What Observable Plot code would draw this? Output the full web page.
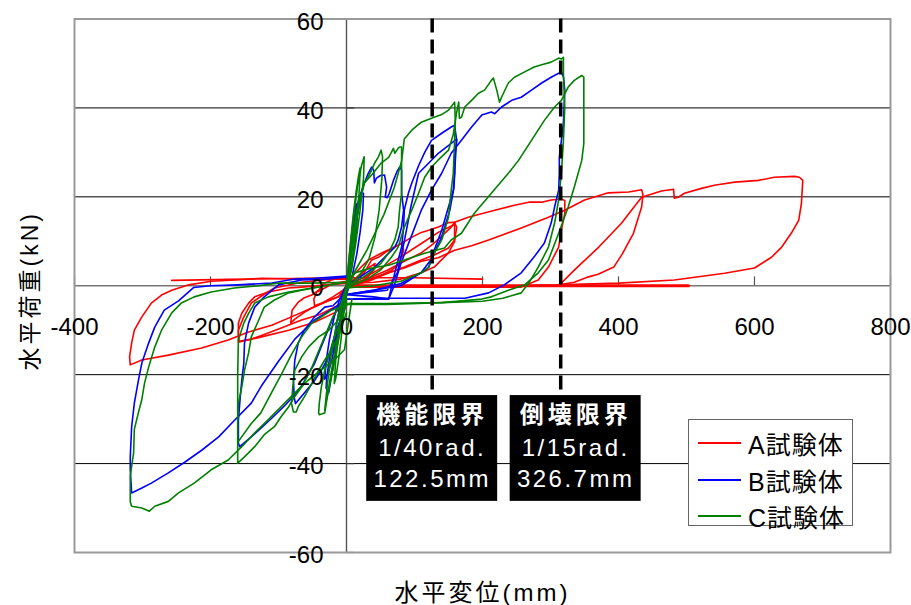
<!DOCTYPE html>
<html><head><meta charset="utf-8">
<script src="https://cdn.jsdelivr.net/npm/d3@7"></script>
<script src="https://cdn.jsdelivr.net/npm/@observablehq/plot@0.6"></script>
<style>
html,body{margin:0;padding:0;background:#fff;}
#wrap{position:relative;width:911px;height:605px;overflow:hidden;}
#legend{position:absolute;left:688px;top:419px;width:165px;height:107px;background:#fff;border:1.5px solid #666;box-sizing:border-box;}
.item{position:absolute;left:9px;height:30px;display:flex;align-items:center;font-family:"Liberation Sans","Noto Sans CJK JP",sans-serif;font-size:25px;color:#000;letter-spacing:1px;}
.sw{width:43px;height:2px;margin-right:7px;}
</style></head>
<body><div id="wrap"></div>
<script>
// ---------- axes / annotations ----------
const xTicks = [-400, -200, 0, 200, 400, 600, 800];
const yTicks = [-60, -40, -20, 0, 20, 40, 60];
const gridY = [-40, -20, 20, 40];
const xTitle = "水平変位(mm)";
const yTitle = "水平荷重(kN)";
const limitLines = [126, 315];             // dashed lines (mm)
const limitNames = ["機能限界", "倒壊限界"];
const limitRad = ["1/40rad.", "1/15rad."];
const limitMm = ["122.5mm", "326.7mm"];
const limitBoxX = [126, 337];               // box centres (mm)
const limitBoxY = -36.6;                    // box centre (kN)
const seriesNames = ["A試験体", "B試験体", "C試験体"];
const seriesColors = ["#ff0000", "#0000ff", "#008000"];

// ---------- A specimen (red) ----------
const A_p1 = [[0,0],[10,1.2],[20,2.6],[30,3.8],[42,5],[40,3.5],[30,1.8],[15,0.5],[0,-0.3]];
const A_p2 = [[0,0.5],[12,1.5],[26,2.9],[37,5.8],[47,6.4],[62,8],[76,9.1],[81,9.6],[84,8],[81,6.4],[76,4.6],[66,3.5],[50,2.3],[30,1],[10,0.3],[0,0]];
const A_p3 = [[0,0],[7,2],[32,5.8],[51,7.3],[76,9.1],[97,11],[110,12],[121,12.5],[135,13.2],[150,14.2],[159,14.3],[162,13.1],[159,10.3],[150,8.5],[129,6.9],[110,5.8],[85,4.2],[60,2.8],[30,1.3],[0,0.3]];
const A_p3b = [[0,0],[40,3],[80,6.5],[110,9.5],[135,12],[155,13.5],[159,13.8],[159,10],[150,7.4],[129,4.2],[110,2.9],[80,1.5],[40,0.8],[0,0.5]];
const A_p4 = [[0,-0.3],[30,1.5],[60,3.5],[85,5.5],[109,7.3],[128,9.5],[138,10.9],[154,13.2],[159,14.3],[179,15.4],[218,17],[247,18.1],[268,18.8],[287,18.8],[301,19.3],[316,19.5],[321,19.2],[321,16.3],[316,12.5],[312,8.7],[297,4.2],[282,1.3],[257,-0.3],[200,-0.3],[100,-0.3],[0,-0.3]];
const A_p5 = [[0,-0.5],[37,1.3],[62,2.9],[85,4],[110,5.5],[135,6.3],[159,8],[184,9],[209,10.3],[257,13],[297,15.4],[321,17],[350,19.3],[385,20.9],[415,21.1],[434,21.6],[436,20.5],[434,17.7],[422,11.8],[405,7],[393,4.2],[370,2.6],[356,2],[335,0.8],[312,0.2],[250,0],[150,0],[0,0]];
const A_p6 = [[0,-0.3],[100,-0.3],[200,-0.2],[312,0],[335,3.5],[371,8.7],[404,14],[434,19.9],[463,21.3],[481,21.7],[482,19.7],[488,19.9],[497,20.8],[522,21.9],[541,22.6],[571,23.3],[606,23.7],[629,24.4],[659,24.6],[666,24.4],[671,23.7],[669,18.5],[665,14.7],[654,11.8],[640,8.7],[625,6.4],[600,4],[556,2.8],[482,1.3],[400,0.6],[312,0.2]];
const A_flat = [[-257,1.2],[-150,1.5],[0,1.8],[100,1.8],[200,1.5]];
const A_end = [[0,0],[200,0],[350,0],[503,0]];
const A_n1 = [[0,0],[-12,-2.5],[-32,-3.7],[-51,-5],[-62,-6],[-76,-7.5],[-82,-8.4],[-80,-5.5],[-71,-3.7],[-62,-2.7],[-51,-2.1],[-41,-1],[-32,0.6],[-22,1.3],[-12,1.7],[0,1.7]];
const A_n2 = [[0,-0.5],[-20,-2.5],[-35,-3.8],[-47,-4.5],[-48,-3],[-44,-1.5],[-32,-0.5],[-20,0.5],[0,1]];
const A_n3 = [[0,1.5],[-22,1.5],[-66,0.8],[-106,-0.5],[-125,-2.3],[-140,-3.9],[-151,-7],[-159,-10],[-159,-12.7],[-125,-11.5],[-85,-10],[-47,-8.2],[-18,-6.1],[0,-4.3]];
const A_n3b = [[0,0.5],[-30,0.2],[-66,-0.3],[-85,-0.5],[-115,-1.4],[-135,-2.5],[-144,-3.9],[-154,-6.2],[-159,-8.4],[-159,-10.7],[-158,-12.5],[-140,-12],[-125,-11.2],[-96,-9.5],[-66,-7.7],[-40,-6.5],[-20,-5],[0,-3.5]];
const A_n4 = [[0,1.7],[-22,1.7],[-66,1.5],[-125,1.7],[-150,1.4],[-199,1],[-232,0.2],[-257,-1],[-272,-2.1],[-287,-3.9],[-301,-7],[-312,-10],[-316,-12.9],[-319,-16],[-318,-17.8],[-301,-16.7],[-262,-15.6],[-213,-14],[-174,-12.2],[-144,-10.4],[-110,-8.9],[-81,-7],[-51,-5],[-32,-3.7],[-12,-2.5],[0,-1]];

// ---------- B specimen (blue) ----------
const B_c1 = [[0,0],[3,4],[6,8],[9,12],[12,15.5],[14,18.5],[16,17],[15,13],[12,9],[8,5],[3,1],[-3,-3],[-8,-7],[-13,-11],[-17,-14],[-20,-15],[-18,-12],[-14,-8],[-9,-4],[-4,-1],[0,0]];
const B_c2 = [[0,-1],[5,5],[10,10],[15,15],[20,19],[22,20.8],[25,20.8],[24,17],[20,12],[15,7],[8,2],[0,-2],[-8,-7],[-15,-12],[-22,-17],[-28,-20],[-32,-21],[-30,-17],[-25,-12],[-18,-7],[-10,-3],[0,0]];
const B_n1 = [[0,0],[-7,-7],[-15,-10],[-22,-13.8],[-26,-17.4],[-29,-20.6],[-30,-23],[-26,-24],[-22,-20],[-15,-14],[-8,-8],[0,-2]];
const B_p1 = [[0,0],[3,3],[7,8],[12,15],[18,19.5],[26,23],[32,25.3],[37,26.7],[40,26],[41,23.1],[44,24.2],[50,24.8],[56,24.9],[59,22.2],[57,19.9],[60,19.8],[63,20.8],[69,23.7],[74,25.6],[78,26.7],[81,26],[81,20.8],[84,17],[81,13.2],[76,10.3],[71,8.7],[56,6.4],[40,4],[20,2],[0,0]];
const B_n2 = [[0,-1],[-10,-3],[-20,-4.5],[-32,-4.8],[-47,-7],[-62,-10],[-71,-12.9],[-76,-16.7],[-78,-21.3],[-77,-25],[-75,-26.5],[-62,-24.1],[-47,-21.3],[-37,-19],[-26,-16],[-18,-13],[-10,-8],[0,-3]];
const B_p2 = [[0,-2],[40,-2.5],[62,-3],[71,2.9],[81,8.7],[84,13.2],[85,17],[91,20.8],[96,23.1],[106,27],[115,30],[125,32.7],[140,34.3],[154,35.7],[159,36.1],[162,32.7],[159,28.9],[159,25.3],[157,21.5],[150,17.7],[140,12.5],[129,8],[121,4.2],[110,2.9],[80,0.5],[40,-1],[0,-2]];
const B_p2b = [[0,-2],[60,-1],[75,3],[85,10],[95,18],[106,25.3],[121,27.6],[135,29.8],[154,32],[162,33],[160,28],[158,22],[152,17],[140,11],[125,6],[110,3],[80,0],[0,-2]];
const B_p3 = [[0,-3],[30,-3],[62,-3],[70,0],[80,5],[95,11],[110,17],[125,21.5],[140,25.3],[154,29.8],[169,32.7],[184,35.7],[199,38.4],[213,39.1],[218,38.7],[228,40.2],[243,41.7],[257,42.4],[272,44],[287,45.6],[301,46.9],[312,47.8],[316,48],[319,47],[321,44],[319,36.5],[316,32.7],[313,28.9],[313,25.3],[312,21.5],[306,17.7],[301,14.1],[291,9.6],[276,6.5],[257,2.9],[232,0.2],[209,-1.6],[174,-2.8],[110,-2.8],[50,-2.8],[0,-3]];
const B_n3 = [[0,2],[-30,1.5],[-66,1.3],[-100,0.2],[-121,-2.5],[-135,-4.8],[-144,-8.4],[-150,-12.9],[-151,-17.4],[-154,-21.3],[-157,-26.4],[-159,-30.3],[-159,-35.4],[-157,-36.2],[-144,-34.5],[-129,-32.5],[-110,-29.8],[-91,-27],[-76,-24.5],[-66,-22.5],[-47,-17.5],[-30,-11],[-15,-5.5],[0,-2]];
const B_n4 = [[0,2.2],[-47,1.7],[-76,1.5],[-110,0.6],[-160,0.2],[-200,0],[-225,-0.4],[-247,-3.4],[-268,-5.5],[-282,-9.3],[-291,-12.9],[-301,-17.4],[-306,-21.3],[-312,-26.4],[-316,-31.8],[-318,-38.5],[-318,-41.4],[-316,-46.6],[-301,-45.5],[-287,-44.4],[-262,-42.1],[-238,-39.7],[-213,-37],[-188,-34],[-165,-30.3],[-140,-26.4],[-125,-22.5],[-100,-17],[-76,-12],[-47,-7.7],[-18,-5],[0,-3]];

// ---------- C specimen (green) ----------
const C_c1 = [[0,-2],[3,5],[6,10],[10,16],[14,21],[18,25],[20,26.5],[19,22],[16,16],[12,10],[7,4],[2,0],[-4,-6],[-8,-12],[-12,-17],[-16,-21],[-18,-22],[-16,-17],[-12,-11],[-8,-6],[-3,-2],[0,-2]];
const C_c2 = [[0,0],[5,8],[10,15],[16,22],[22,27],[26,29],[25,24],[20,17],[14,10],[8,4],[0,-1],[-8,-9],[-16,-16],[-24,-22],[-30,-26],[-32,-28],[-28,-22],[-22,-15],[-14,-8],[-6,-3],[0,0]];
const C_n1 = [[0,-4],[-7,-7.7],[-18,-11.5],[-25,-15.2],[-32,-19],[-37,-22.8],[-40,-26.4],[-41,-28.6],[-40,-29],[-32,-28.6],[-29,-25.7],[-26,-22.8],[-22,-19],[-15,-13],[-7,-7],[0,-3]];
const C_n2 = [[0,0],[-12,-7.7],[-26,-10],[-41,-11.5],[-56,-13.8],[-66,-16],[-76,-19],[-79,-22.8],[-81,-26.4],[-78,-28.4],[-74,-28.4],[-71,-27.2],[-62,-25],[-51,-22],[-41,-19],[-32,-16.7],[-22,-14.4],[-12,-11.5],[0,-6]];
const C_p1 = [[0,0],[5,6],[10,12],[15,17],[22,20.8],[26,23.1],[37,24.9],[51,27.6],[62,28.9],[66,30],[69,30.9],[71,29.8],[76,30.9],[78,31.2],[81,31.2],[81,26.7],[81,20.8],[78,17],[76,13.2],[71,10.3],[62,7.4],[51,5.1],[35,3],[15,1],[0,0]];
const C_p1b = [[0,-1],[8,8],[15,15],[20,19],[26,23],[32,24.5],[37,26],[41,27.5],[47,29],[51,30.5],[53,29],[52,24],[48,17],[42,11],[33,6],[20,2.5],[8,0.5],[0,-1]];
const C_p2 = [[0,0],[30,8],[55,16],[70,22],[81,28],[85,33],[96,35],[110,36.8],[125,37.7],[140,38.5],[150,39.5],[159,41.3],[160,37.2],[159,32.7],[157,25.3],[154,21.5],[150,15.4],[140,10.3],[129,7.3],[121,4.2],[110,2.9],[80,1],[40,0],[0,-0.5]];
const C_p3 = [[0,-0.5],[30,1.5],[50,3.5],[66,6.4],[76,8.7],[85,13.2],[96,17],[106,20.8],[115,24.4],[125,26.7],[135,28.3],[150,30.5],[157,34],[162,39],[165,41.3],[166,37.7],[169,37.9],[174,40.2],[184,41.7],[194,43.3],[203,44],[213,46.2],[216,46.7],[221,44],[225,41.3],[228,42.4],[238,45.6],[247,46.9],[262,48.1],[276,49.2],[287,49.7],[301,50.3],[312,51.2],[316,51],[319,51.4],[319,47.8],[321,40.2],[319,32.7],[316,25.3],[312,19.3],[306,14.1],[297,8.7],[282,4.2],[268,0.6],[257,-1.6],[230,-2.8],[200,-3.5],[140,-3.8],[60,-4],[0,-4]];
const C_p4 = [[0,-1],[12,2.9],[37,4],[62,4.6],[85,5.8],[115,7.3],[144,8.5],[154,10.3],[169,11.8],[188,16.3],[213,20.8],[238,25.3],[253,28.2],[272,32.7],[291,37.2],[306,40.2],[316,41.7],[326,44.7],[335,46.2],[346,47.3],[349,46.9],[349,32],[346,28.2],[335,22.2],[326,17.7],[312,11.8],[297,5.8],[282,2.9],[262,0.2],[238,-1],[213,-2.5],[199,-3],[140,-3.8],[60,-4.2],[0,-4.2]];
const C_n3 = [[0,0.8],[-51,-0.5],[-85,-1.4],[-115,-2.5],[-135,-3.9],[-144,-6.2],[-151,-8.4],[-159,-12.2],[-160,-20],[-160,-30],[-160,-39.9],[-150,-38.5],[-135,-36.2],[-121,-33.5],[-106,-31.7],[-96,-29.4],[-85,-27.2],[-76,-24.9],[-66,-22.8],[-50,-18],[-35,-12.5],[-20,-7],[0,-2]];
const C_n3b = [[-30,0],[-66,-1],[-85,-1.6],[-106,-3.2],[-121,-4.8],[-129,-7.7],[-140,-11.5],[-144,-15.1],[-150,-19],[-154,-22.8],[-159,-26.4],[-160,-30.3]];
const C_n4 = [[-159,-35],[-140,-31],[-126,-28.6],[-110,-24],[-96,-20],[-81,-15.5],[-66,-11.5],[-51,-8.4],[-37,-7],[-22,-5.5],[-7,-4.8],[7,-3.9]];
const C_n5 = [[0,0.8],[-51,0.6],[-100,0.6],[-129,0],[-165,-0.5],[-199,-1.4],[-224,-2.5],[-243,-3.9],[-257,-6.1],[-272,-10],[-282,-13.8],[-291,-18.3],[-297,-21.9],[-301,-25.6],[-306,-28.5],[-312,-32.3],[-313,-37.5],[-318,-42.8],[-318,-48.6],[-316,-49.6],[-301,-50],[-290,-50.7],[-282,-49.6],[-262,-48.5],[-247,-46.6],[-224,-44.4],[-199,-41.4],[-174,-39.2],[-154,-36.2],[-135,-33.1],[-115,-30.1],[-96,-27.2],[-76,-24.1],[-56,-21.2],[-37,-18.9],[-18,-16.7],[-3,-14.4],[3,-8],[8,-3]];

const loopsA = [A_p1, A_p2, A_p3, A_p3b, A_p4, A_p5, A_p6, A_flat, A_n1, A_n2, A_n3, A_n3b, A_n4];
const loopsB = [B_c1, B_c2, B_n1, B_p1, B_n2, B_p2, B_p2b, B_p3, B_n3, B_n4];
const loopsC = [C_c1, C_c2, C_n1, C_n2, C_p1, C_p1b, C_p2, C_p3, C_p4, C_n3, C_n3b, C_n4, C_n5];

function toRows(loops, tag) {
  return loops.flatMap((pts, i) => pts.map(([x, y]) => ({x, y, seg: tag + i})));
}
const rowsA = toRows(loopsA, "A");
const rowsB = toRows(loopsB, "B");
const rowsC = toRows(loopsC, "C");
const rowsAend = toRows([A_end], "E");

const idx = limitLines.map((d, i) => i);
const halfW = 96.3, halfH = 11.9;

const font = '"Liberation Sans","Noto Sans CJK JP",sans-serif';

const chart = Plot.plot({
  width: 911, height: 605,
  marginLeft: 74, marginRight: 21, marginTop: 18.5, marginBottom: 53,
  x: {domain: [-400, 800], axis: null},
  y: {domain: [-60, 60], axis: null},
  style: {fontFamily: font, background: "#fff", color: "#000"},
  marks: [
    Plot.ruleY(gridY, {stroke: "#000", strokeWidth: 1}),
    Plot.ruleY([0], {stroke: "#777", strokeWidth: 1.6}),
    Plot.ruleX([0], {stroke: "#555", strokeWidth: 1.4}),
    Plot.ruleX(xTicks.filter(d => d !== 0), {x: d => d, y1: 0, y2: 2, stroke: "#555", strokeWidth: 1.2}),
    Plot.ruleY(yTicks, {y: d => d, x1: 0, x2: 12, stroke: "#333", strokeWidth: 1.2}),
    Plot.line(rowsA, {x: "x", y: "y", z: "seg", stroke: seriesColors[0], strokeWidth: 1.6}),
    Plot.line(rowsAend, {x: "x", y: "y", z: "seg", stroke: seriesColors[0], strokeWidth: 3}),
    Plot.line(rowsB, {x: "x", y: "y", z: "seg", stroke: seriesColors[1], strokeWidth: 1.6}),
    Plot.line(rowsC, {x: "x", y: "y", z: "seg", stroke: seriesColors[2], strokeWidth: 1.6}),
    Plot.frame({stroke: "#999", strokeWidth: 2}),
    Plot.text(xTicks, {x: d => d, y: 0, dy: 42, text: d => String(d), fontSize: 24, fill: "#000"}),
    Plot.text(yTicks, {x: 0, y: d => d, dx: -23, dy: 3, textAnchor: "end", text: d => String(d), fontSize: 24, fill: "#000"}),
    Plot.ruleX(limitLines, {x: d => d, y1: 60, y2: limitBoxY + halfH, stroke: "#000", strokeWidth: 3.5, strokeDasharray: "14,7"}),
    Plot.rect(idx, {x1: i => limitBoxX[i] - halfW, x2: i => limitBoxX[i] + halfW, y1: limitBoxY - halfH, y2: limitBoxY + halfH, fill: "#000"}),
    Plot.text(idx, {x: i => limitBoxX[i], y: limitBoxY, dy: -33, text: i => limitNames[i], fill: "#fff", fontSize: 24, fontWeight: "bold"}),
    Plot.text(idx, {x: i => limitBoxX[i], y: limitBoxY, dy: 0, text: i => limitRad[i], fill: "#fff", fontSize: 24}),
    Plot.text(idx, {x: i => limitBoxX[i], y: limitBoxY, dy: 31, text: i => limitMm[i], fill: "#fff", fontSize: 24}),
    Plot.text([xTitle], {frameAnchor: "bottom", textAnchor: "middle", lineAnchor: "middle", dy: 41, text: d => d, fontSize: 24, fill: "#000"}),
    Plot.text([yTitle], {frameAnchor: "left", textAnchor: "middle", lineAnchor: "middle", dx: -44, dy: 5, rotate: -90, text: d => d, fontSize: 23, fill: "#000"})
  ]
});

// letter spacing, as in the original figure
d3.select(chart).selectAll("text").each(function () {
  const t = this.textContent;
  if (limitNames.includes(t)) this.style.letterSpacing = "4px";
  else if (limitRad.includes(t) || limitMm.includes(t)) this.style.letterSpacing = "2.5px";
  else if (t === xTitle || t === yTitle) this.style.letterSpacing = "3px";
});

const wrap = document.getElementById("wrap");
wrap.appendChild(chart);

const legend = document.createElement("div");
legend.id = "legend";
seriesNames.forEach((name, i) => {
  const item = document.createElement("div");
  item.className = "item";
  item.style.top = (8 + i * 36.5) + "px";
  const sw = document.createElement("div");
  sw.className = "sw";
  sw.style.background = seriesColors[i];
  item.appendChild(sw);
  item.appendChild(document.createTextNode(name));
  legend.appendChild(item);
});
wrap.appendChild(legend);
</script>
</body></html>
